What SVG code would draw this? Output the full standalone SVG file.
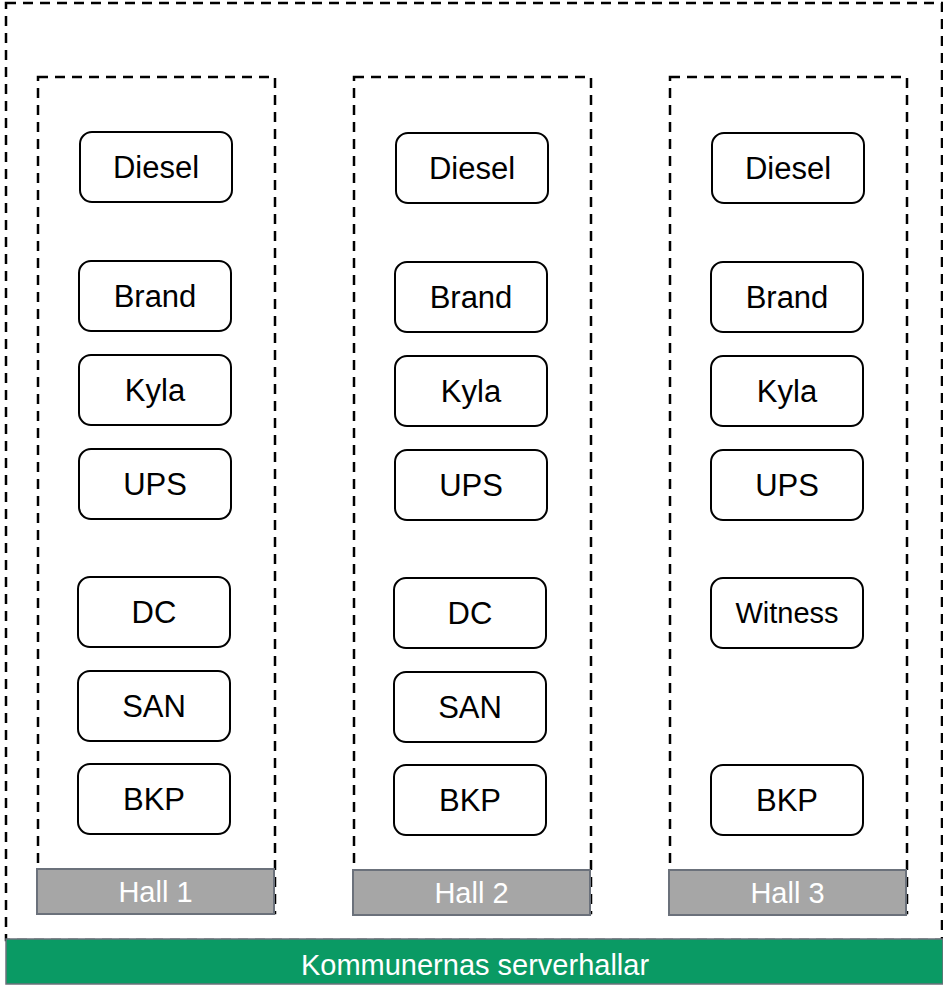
<svg xmlns="http://www.w3.org/2000/svg" width="943" height="985" viewBox="0 0 943 985">
<style>
.dash{fill:none;stroke:#000;stroke-width:2.5;stroke-dasharray:10 7}
.node rect{fill:#fff;stroke:#000;stroke-width:2}
.node text{font-family:"Liberation Sans",Arial,sans-serif;font-size:31px;fill:#000;text-anchor:middle;dominant-baseline:central}
.hl rect{fill:#a6a6a6;stroke:#6b717b;stroke-width:2}
.hl text{font-family:"Liberation Sans",Arial,sans-serif;font-size:29px;fill:#fff;text-anchor:middle;dominant-baseline:central}
</style>
<rect width="943" height="985" fill="#fff"/>
<g id="outer">
<rect class="dash" x="6" y="3" width="936" height="937"/>
</g>
<g id="footer">
<rect x="6" y="939" width="937" height="45" fill="#0a9a64" stroke="#6b717b" stroke-width="1.5"/>
<text x="475" y="965" font-family="'Liberation Sans',Arial,sans-serif" font-size="29" fill="#fff" text-anchor="middle" dominant-baseline="central">Kommunernas serverhallar</text>
</g>
<g id="hall1-box"><rect class="dash" x="38" y="77" width="237" height="836"/></g>
<g id="hall2-box"><rect class="dash" x="354" y="77" width="237" height="836"/></g>
<g id="hall3-box"><rect class="dash" x="670" y="77" width="237" height="836"/></g>
<g id="hall1-label" class="hl"><rect x="37" y="869" width="237" height="45"/><text x="155.5" y="892">Hall 1</text></g>
<g id="hall2-label" class="hl"><rect x="353" y="870" width="237" height="45"/><text x="471.5" y="893">Hall 2</text></g>
<g id="hall3-label" class="hl"><rect x="669" y="870" width="237" height="45"/><text x="787.5" y="893">Hall 3</text></g>
<g id="h1-diesel" class="node"><rect x="80" y="132" width="152" height="70" rx="12"/><text x="156" y="167">Diesel</text></g>
<g id="h1-brand" class="node"><rect x="79" y="261" width="152" height="70" rx="12"/><text x="155" y="296">Brand</text></g>
<g id="h1-kyla" class="node"><rect x="79" y="355" width="152" height="70" rx="12"/><text x="155" y="390">Kyla</text></g>
<g id="h1-ups" class="node"><rect x="79" y="449" width="152" height="70" rx="12"/><text x="155" y="484">UPS</text></g>
<g id="h1-dc" class="node"><rect x="78" y="577" width="152" height="70" rx="12"/><text x="154" y="612">DC</text></g>
<g id="h1-san" class="node"><rect x="78" y="671" width="152" height="70" rx="12"/><text x="154" y="706">SAN</text></g>
<g id="h1-bkp" class="node"><rect x="78" y="764" width="152" height="70" rx="12"/><text x="154" y="799">BKP</text></g>
<g id="h2-diesel" class="node"><rect x="396" y="133" width="152" height="70" rx="12"/><text x="472" y="168">Diesel</text></g>
<g id="h2-brand" class="node"><rect x="395" y="262" width="152" height="70" rx="12"/><text x="471" y="297">Brand</text></g>
<g id="h2-kyla" class="node"><rect x="395" y="356" width="152" height="70" rx="12"/><text x="471" y="391">Kyla</text></g>
<g id="h2-ups" class="node"><rect x="395" y="450" width="152" height="70" rx="12"/><text x="471" y="485">UPS</text></g>
<g id="h2-dc" class="node"><rect x="394" y="578" width="152" height="70" rx="12"/><text x="470" y="613">DC</text></g>
<g id="h2-san" class="node"><rect x="394" y="672" width="152" height="70" rx="12"/><text x="470" y="707">SAN</text></g>
<g id="h2-bkp" class="node"><rect x="394" y="765" width="152" height="70" rx="12"/><text x="470" y="800">BKP</text></g>
<g id="h3-diesel" class="node"><rect x="712" y="133" width="152" height="70" rx="12"/><text x="788" y="168">Diesel</text></g>
<g id="h3-brand" class="node"><rect x="711" y="262" width="152" height="70" rx="12"/><text x="787" y="297">Brand</text></g>
<g id="h3-kyla" class="node"><rect x="711" y="356" width="152" height="70" rx="12"/><text x="787" y="391">Kyla</text></g>
<g id="h3-ups" class="node"><rect x="711" y="450" width="152" height="70" rx="12"/><text x="787" y="485">UPS</text></g>
<g id="h3-witness" class="node"><rect x="711" y="578" width="152" height="70" rx="12"/><text x="787" y="613" style="font-size:29px">Witness</text></g>
<g id="h3-bkp" class="node"><rect x="711" y="765" width="152" height="70" rx="12"/><text x="787" y="800">BKP</text></g>
<g id="connectors"></g>
</svg>
